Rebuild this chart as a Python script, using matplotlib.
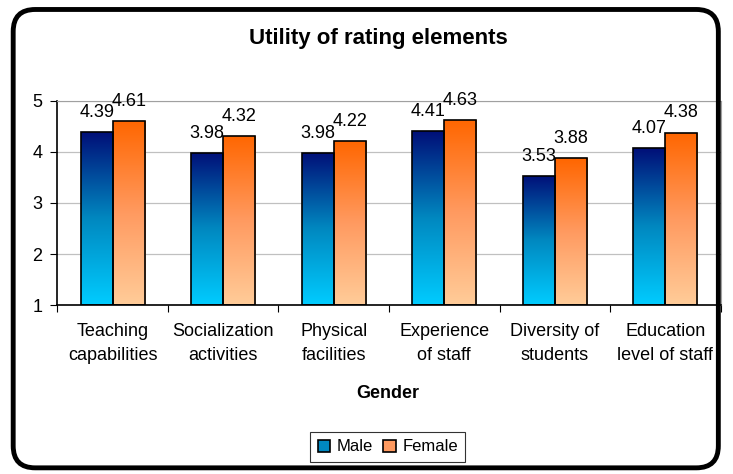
import matplotlib.pyplot as plt
import numpy as np
from matplotlib.colors import LinearSegmentedColormap
from matplotlib.patches import FancyBboxPatch

plt.rcParams['font.family'] = ['Liberation Sans', 'DejaVu Sans']

categories = ['Teaching\ncapabilities', 'Socialization\nactivities', 'Physical\nfacilities',
              'Experience\nof staff', 'Diversity of\nstudents', 'Education\nlevel of staff']
male = [4.39, 3.98, 3.98, 4.41, 3.53, 4.07]
female = [4.61, 4.32, 4.22, 4.63, 3.88, 4.38]

male_cmap = LinearSegmentedColormap.from_list('male', ['#00ccff', '#0088c0', '#000f78'])
female_cmap = LinearSegmentedColormap.from_list('female', ['#ffcc99', '#ff9a60', '#ff6600'])

fig = plt.figure(figsize=(7.33, 4.74), dpi=100)
ax = fig.add_axes([0.0784, 0.3565, 0.9046, 0.4305])

# rounded outer frame like the Excel chart area
frame = FancyBboxPatch((0.018, 0.013), 0.962, 0.967, boxstyle='round,pad=0,rounding_size=0.03',
                       transform=fig.transFigure, facecolor='none', edgecolor='black', linewidth=3.5,
                       mutation_aspect=733 / 474, zorder=10)
fig.patches.append(frame)

x = np.arange(len(categories))
w = 0.29
ymin = 1

grad = np.linspace(0, 1, 256).reshape(-1, 1)


def gradient_bars(xs, vals, cmap, label):
    bars = ax.bar(xs, np.array(vals) - ymin, bottom=ymin, width=w, facecolor='none',
                  edgecolor='black', linewidth=1.2, zorder=3, label=label)
    for b in bars:
        x0, y0 = b.get_x(), b.get_y()
        im = ax.imshow(grad, cmap=cmap, origin='lower', aspect='auto',
                       extent=[x0, x0 + b.get_width(), y0, y0 + b.get_height()], zorder=2)
        im.set_clip_path(b)
    return bars


gradient_bars(x - w / 2, male, male_cmap, 'Male')
gradient_bars(x + w / 2, female, female_cmap, 'Female')

for xi, m, f in zip(x, male, female):
    ax.annotate(f'{m:.2f}', (xi - w / 2, m), xytext=(0, 8), textcoords='offset points',
                ha='center', va='bottom', fontsize=13)
    ax.annotate(f'{f:.2f}', (xi + w / 2, f), xytext=(0, 8), textcoords='offset points',
                ha='center', va='bottom', fontsize=13)

ax.set_xlim(-0.5, len(categories) - 0.5)
ax.set_ylim(1, 5)
ax.set_yticks([1, 2, 3, 4, 5])
ax.yaxis.grid(True, color='#c0c0c0', linewidth=0.9)
ax.set_axisbelow(True)
ax.tick_params(axis='y', labelsize=13, length=5, direction='out', pad=6)

ax.set_xticks(np.arange(len(categories) + 1) - 0.5)
ax.set_xticklabels([])
ax.set_xticks(x, minor=True)
ax.set_xticklabels(categories, minor=True, fontsize=13, linespacing=1.55)
ax.tick_params(axis='x', which='major', length=5, direction='out')
ax.tick_params(axis='x', which='minor', length=0, pad=13)

ax.spines['top'].set_color('#a0a0a0')
ax.spines['right'].set_color('#a0a0a0')
ax.spines['left'].set_linewidth(1.2)
ax.spines['bottom'].set_linewidth(1.2)

fig.text(0.516, 0.918, 'Utility of rating elements', ha='center', va='center',
         fontsize=16, fontweight='bold')
fig.text(0.529, 0.17, 'Gender', ha='center', va='center', fontsize=13, fontweight='bold')

leg = fig.legend(loc='center', bbox_to_anchor=(0.529, 0.057), ncol=2, fontsize=12,
                 frameon=True, fancybox=False, edgecolor='black', handlelength=0.75,
                 handleheight=0.75, columnspacing=0.6, handletextpad=0.4, borderpad=0.45)
leg.get_frame().set_linewidth(0.8)
leg.legend_handles[0].set_facecolor('#0088c0')
leg.legend_handles[1].set_facecolor('#ff9a60')

fig.savefig('out.png', dpi=100)
